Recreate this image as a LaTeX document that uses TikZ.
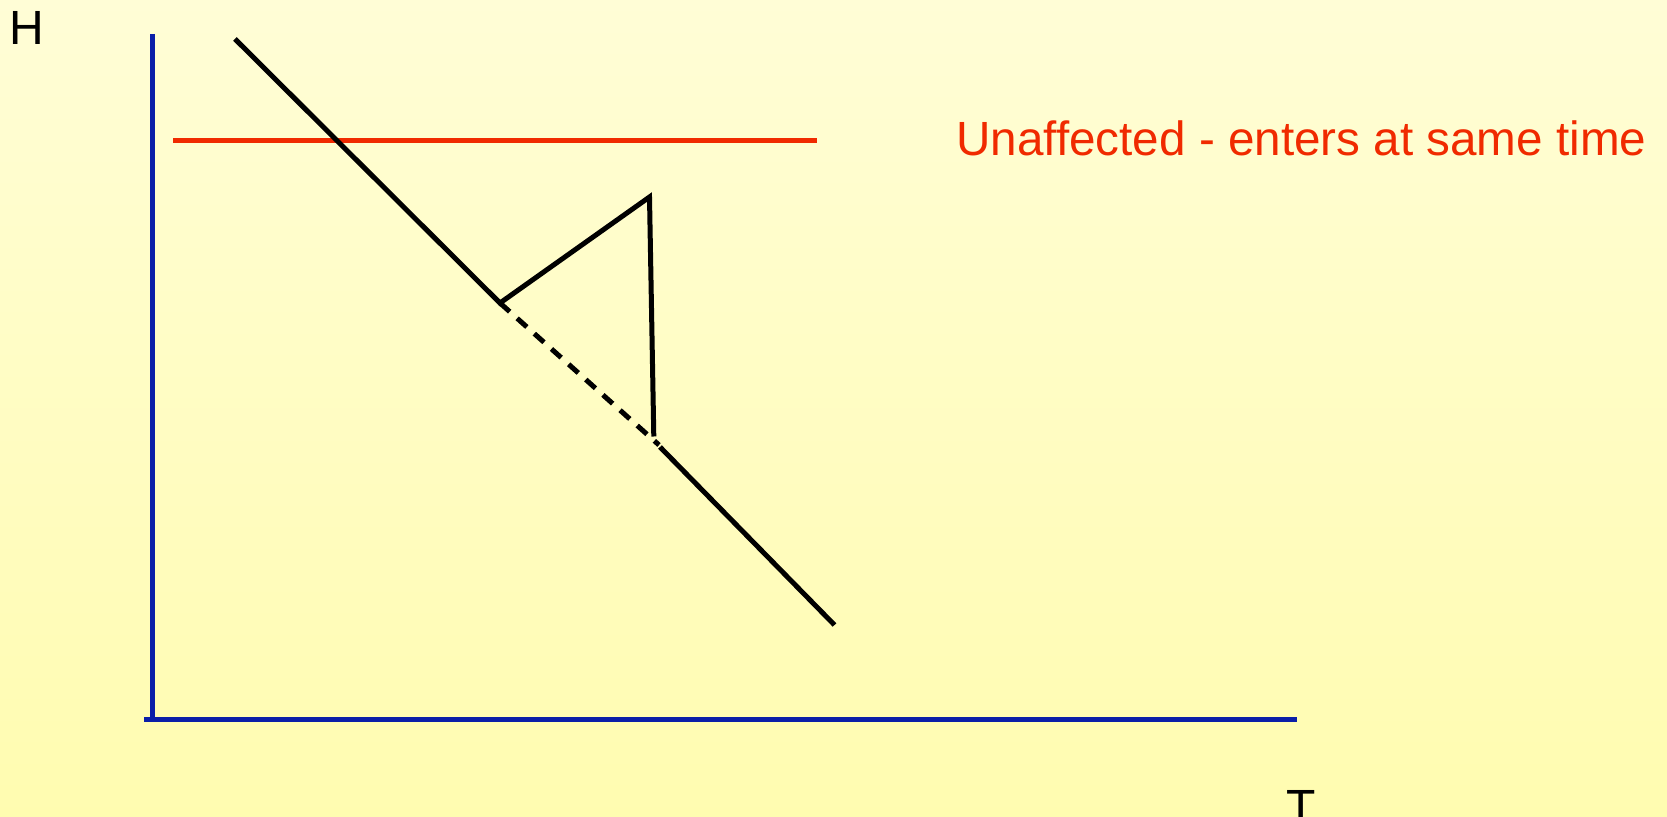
\documentclass[tikz,border=0pt]{standalone}
\usepackage{fontspec}
\usepackage{graphicx}
\setmainfont{Liberation Sans}
\definecolor{bgtop}{HTML}{FFFDD6}
\definecolor{bgbot}{HTML}{FFFCB0}
\definecolor{axisblue}{HTML}{0A1EA8}
\definecolor{redline}{HTML}{F02A00}
\tikzset{
  axis/.style={draw=axisblue, line width=2.7pt},
  curve/.style={draw=black, line width=2.5pt},
  dcurve/.style={draw=black, line width=2.5pt, dash pattern=on 6.5pt off 5pt},
  redl/.style={draw=redline, line width=2.7pt},
  lbl/.style={inner sep=0pt, font=\fontsize{24}{28}\selectfont}
}
\begin{document}
\begin{tikzpicture}[x=0.5pt,y=-0.5pt]
\shade[top color=bgtop, bottom color=bgbot] (0,0) rectangle (1667,817);
\useasboundingbox (0,0) rectangle (1667,817);
% axes
\coordinate (ytop) at (152.5,34);
\coordinate (origin) at (152.5,719.5);
\coordinate (xstart) at (144,719.5);
\coordinate (xend) at (1297,719.5);
\draw[axis] (ytop) -- (origin);
\draw[axis] (xstart) -- (xend);
% labels
\node[lbl, anchor=base west] (H) at (9,45) {H};
\node[lbl, anchor=north] (T) at (1301,790) {T};
\node[lbl, anchor=base west, text=redline] (U) at (956,156) {\resizebox{345pt}{\height}{Unaffected - enters at same time}};
% red line
\coordinate (r1) at (173,140.5);
\coordinate (r2) at (817,140.5);
\draw[redl] (r1) -- (r2);
% black curve
\coordinate (a) at (235,39);
\coordinate (b) at (500,303);
\coordinate (c) at (649.5,197);
\coordinate (d) at (653.8,436.5);
\coordinate (e) at (659,445);
\coordinate (e2) at (660,447);
\coordinate (f) at (834.5,625);
\draw[curve] (a) -- (b) -- (c) -- (d);
\draw[dcurve] (b) -- (e);
\draw[curve] (e2) -- (f);
\end{tikzpicture}
\end{document}
